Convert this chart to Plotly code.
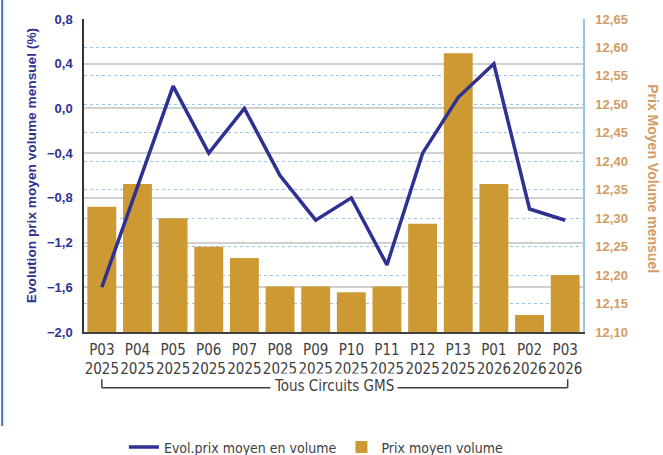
import plotly.graph_objects as go

categories = ["P03<br>2025", "P04<br>2025", "P05<br>2025", "P06<br>2025", "P07<br>2025",
              "P08<br>2025", "P09<br>2025", "P10<br>2025", "P11<br>2025", "P12<br>2025",
              "P13<br>2025", "P01<br>2026", "P02<br>2026", "P03<br>2026"]
evol_prix = [-1.6, -0.71, 0.2, -0.4, 0.0, -0.6, -1.0, -0.8, -1.4, -0.4, 0.1, 0.4, -0.9, -1.0]
prix_moyen = [12.32, 12.36, 12.30, 12.25, 12.23, 12.18, 12.18, 12.17, 12.18, 12.29, 12.59, 12.36, 12.13, 12.20]

NAVY = "#2E3192"
GOLD = "#CC9933"
TAN = "#D29C63"
GREY_TXT = "#404040"
NARROW = "Liberation Sans Narrow, DejaVu Sans Condensed, Arial Narrow, sans-serif"
SANS = "Liberation Sans, Arial, sans-serif"

fig = go.Figure()
fig.add_trace(go.Scatter(
    x=categories, y=evol_prix, yaxis="y2", mode="lines",
    name="Evol.prix moyen en volume",
    line=dict(color=NAVY, width=3.5),
))
fig.add_trace(go.Bar(
    x=categories, y=prix_moyen, yaxis="y",
    name="Prix moyen volume",
    marker=dict(color=GOLD, line=dict(width=0)),
))

fig.update_layout(
    width=663, height=455,
    margin=dict(l=84, r=80, t=19, b=123, autoexpand=False),
    paper_bgcolor="white", plot_bgcolor="white",
    separators=", ",
    bargap=0.19,
    showlegend=True,
    legend=dict(orientation="h", x=0.08, xanchor="left", y=-0.369, yanchor="middle",
                font=dict(family=NARROW, size=14, color=GREY_TXT),
                itemwidth=30, tracegroupgap=0),
    xaxis=dict(
        type="category", automargin=False,
        showgrid=False, showline=True, linecolor="#404040", linewidth=1.5,
        tickfont=dict(family=NARROW, size=15, color=GREY_TXT),
        tickangle=0, ticks="", ticklabelstandoff=3,
    ),
    yaxis=dict(
        side="right", range=[12.10, 12.65], dtick=0.05, tickformat=".2f", automargin=False,
        tickfont=dict(family=SANS, size=13, color=TAN, weight="bold"),
        showgrid=True, gridcolor="#9DC3E6", griddash="dot", gridwidth=1,
        showline=True, linecolor="#9DC3E6", linewidth=1.5,
        zeroline=False, ticks="", ticklabelstandoff=8,
    ),
    yaxis2=dict(
        side="left", overlaying="y", range=[-2.0, 0.8], dtick=0.4, tick0=0, tickformat=".1f",
        automargin=False,
        tickfont=dict(family=SANS, size=13, color=NAVY, weight="bold"),
        showgrid=True, gridcolor="#D0D0D0", gridwidth=1.5,
        showline=True, linecolor="#333333", linewidth=1.5,
        zeroline=False, ticks="", ticklabelstandoff=7,
    ),
)

# axis titles
fig.add_annotation(
    text="Evolution prix moyen volume mensuel (%)", textangle=-90,
    xref="paper", yref="paper", x=-0.106, y=0.53, xanchor="center", yanchor="middle",
    showarrow=False, font=dict(family=SANS, size=13.7, color=NAVY, weight="bold"),
)
fig.add_annotation(
    text="Prix Moyen Volume mensuel", textangle=90,
    xref="paper", yref="paper", x=1.141, y=0.49, xanchor="center", yanchor="middle",
    showarrow=False, font=dict(family=SANS, size=14, color=TAN, weight="bold"),
)

# group bracket
fig.add_shape(type="line", xref="x", yref="paper", x0=0, x1=0, y0=-0.151, y1=-0.178,
              line=dict(color="#404040", width=1.5))
fig.add_shape(type="line", xref="x", yref="paper", x0=13.07, x1=13.07, y0=-0.151, y1=-0.178,
              line=dict(color="#404040", width=1.5))
fig.add_shape(type="line", xref="x", yref="paper", x0=0, x1=13.07, y0=-0.178, y1=-0.178,
              line=dict(color="#404040", width=1.5))
fig.add_annotation(
    text="Tous Circuits GMS", xref="x", yref="paper", x=6.5, y=-0.172,
    xanchor="center", yanchor="middle", showarrow=False, bgcolor="white", borderpad=3,
    font=dict(family=NARROW, size=15, color=GREY_TXT),
)

# container left border
fig.add_shape(type="line", xref="paper", yref="paper", x0=-0.164, x1=-0.164, y0=1.07, y1=-0.30,
              line=dict(color="#4472C4", width=2))

fig.write_html("out.html", config={"displayModeBar": False},
               post_script="document.body.style.margin='0';document.body.style.overflow='hidden';")
